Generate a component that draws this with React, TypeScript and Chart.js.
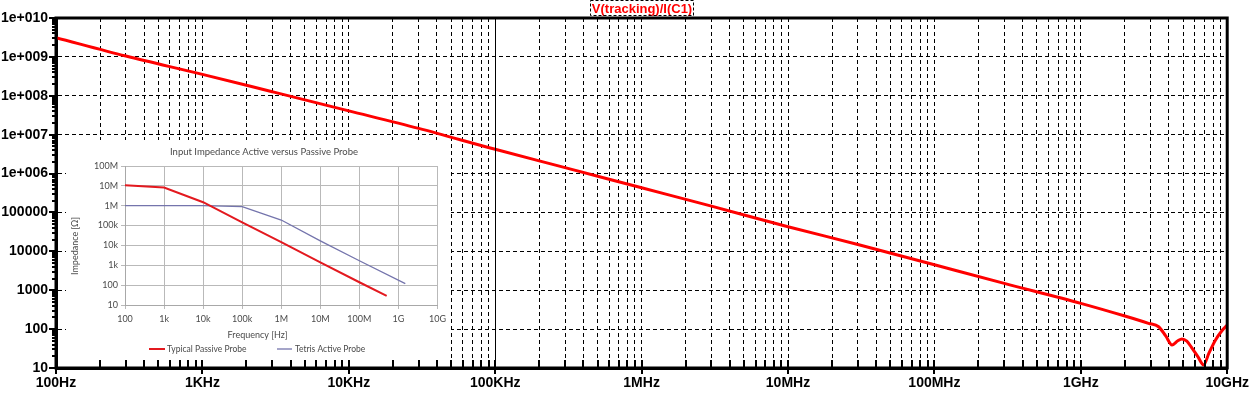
import React, { useEffect, useRef } from 'react';
import { Chart, registerables } from 'chart.js';

Chart.register(...registerables);

// ---------------- main plot data ----------------
const TITLE_TEXT = 'V(tracking)/I(C1)';
const freqHz = [
  100, 300, 1e3, 3e3, 1e4, 3e4, 1e5, 3e5, 1e6, 3e6, 1e7, 3e7, 1e8, 3e8, 1e9, 2e9,
  2.9e9, 3.4e9, 3.8e9, 4.2e9, 4.6e9, 4.9e9, 5.3e9, 5.7e9, 6.3e9, 6.9e9, 7.5e9, 8.3e9, 9.2e9, 1e10,
];
const impedanceOhm = [
  3.12e9, 1.05e9, 3.55e8, 1.27e8, 4.1e7, 1.45e7, 4.2e6, 1.42e6, 4.3e5, 1.45e5, 4.3e4, 1.5e4, 4.5e3, 1.5e3, 460, 217,
  141, 115, 67, 39, 50, 56, 49, 34, 19.6, 12, 24, 52, 91, 127,
];
const xDecades = [1e2, 1e3, 1e4, 1e5, 1e6, 1e7, 1e8, 1e9, 1e10];
const xTickLabels = ['100Hz', '1KHz', '10KHz', '100KHz', '1MHz', '10MHz', '100MHz', '1GHz', '10GHz'];
const yDecades = [1e1, 1e2, 1e3, 1e4, 1e5, 1e6, 1e7, 1e8, 1e9, 1e10];
const yTickLabels = ['10', '100', '1000', '10000', '100000', '1e+006', '1e+007', '1e+008', '1e+009', '1e+010'];
const CURSOR_FREQ = 1e5;

// ---------------- inset data ----------------
const INSET_TITLE = 'Input Impedance Active versus Passive Probe';
const INSET_X_TITLE = 'Frequency [Hz]';
const INSET_Y_TITLE = 'Impedance [Ω]';
const insetXDecades = [1e2, 1e3, 1e4, 1e5, 1e6, 1e7, 1e8, 1e9, 1e10];
const insetXLabels = ['100', '1k', '10k', '100k', '1M', '10M', '100M', '1G', '10G'];
const insetYDecades = [1e1, 1e2, 1e3, 1e4, 1e5, 1e6, 1e7, 1e8];
const insetYLabels = ['10', '100', '1k', '10k', '100k', '1M', '10M', '100M'];
const passiveLabel = 'Typical Passive Probe';
const passiveFreq = [100, 1e3, 1e4, 1e5, 1e6, 1e7, 1e8, 5e8];
const passiveImp = [1.08e7, 8.2e6, 1.5e6, 1.45e5, 1.45e4, 1.4e3, 140, 29];
const activeLabel = 'Tetris Active Probe';
const activeFreq = [100, 1e3, 1e4, 1e5, 1e6, 1e7, 1e8, 1.5e9];
const activeImp = [1e6, 1e6, 1e6, 9e5, 1.9e5, 1.7e4, 1.7e3, 120];

// ---------------- helpers ----------------
const MAIN_FONT = '"Liberation Sans", Arial, sans-serif';
const INSET_FONT = 'Lato, "Open Sans", sans-serif';
const INSET_TEXT = '#4a4a4a';
const INSET_GRID = '#b9b9b9';

function withMinors(decades: number[]): number[] {
  const out: number[] = [];
  for (let i = 0; i < decades.length - 1; i++) {
    for (let m = 1; m <= 9; m++) out.push(m * decades[i]);
  }
  out.push(decades[decades.length - 1]);
  return out;
}
function decadeIndex(v: number, decades: number[]): number {
  const l = Math.log10(v);
  return decades.findIndex((d) => Math.abs(Math.log10(d) - l) < 1e-6);
}

const mainDecor = {
  id: 'mainDecor',
  afterDraw(chart: any) {
    const { ctx, chartArea: a } = chart;
    const x = chart.scales.x;
    const y = chart.scales.y;
    ctx.save();
    ctx.setLineDash([]);
    ctx.strokeStyle = '#000';
    // cursor line
    ctx.lineWidth = 1;
    const cx = Math.round(x.getPixelForValue(CURSOR_FREQ)) + 0.5;
    ctx.beginPath();
    ctx.moveTo(cx, a.top);
    ctx.lineTo(cx, a.bottom);
    ctx.stroke();
    // tick marks
    ctx.lineWidth = 2;
    x.ticks.forEach((t: any) => {
      const px = Math.round(x.getPixelForValue(t.value));
      const major = decadeIndex(t.value, xDecades) >= 0;
      ctx.beginPath();
      ctx.moveTo(px, a.bottom - 8);
      ctx.lineTo(px, a.bottom + (major ? 6 : 0));
      ctx.stroke();
    });
    y.ticks.forEach((t: any) => {
      const py = Math.round(y.getPixelForValue(t.value));
      const major = decadeIndex(t.value, yDecades) >= 0;
      ctx.beginPath();
      ctx.moveTo(a.left - (major ? 7 : 4), py);
      ctx.lineTo(a.left, py);
      ctx.stroke();
    });
    // frame
    ctx.lineWidth = 3;
    ctx.strokeRect(a.left, a.top, a.right - a.left, a.bottom - a.top);
    // title
    ctx.font = `bold 13px ${MAIN_FONT}`;
    ctx.textAlign = 'center';
    ctx.textBaseline = 'middle';
    const tx = Math.round((a.left + a.right) / 2);
    const w = ctx.measureText(TITLE_TEXT).width;
    ctx.fillStyle = '#ff0000';
    ctx.fillText(TITLE_TEXT, tx, 9);
    ctx.setLineDash([3, 2]);
    ctx.lineWidth = 1;
    ctx.strokeRect(Math.round(tx - w / 2) - 1.5, 0.5, Math.round(w) + 3, 15);
    ctx.restore();
  },
};

const insetDecor = {
  id: 'insetDecor',
  afterDraw(chart: any) {
    const { ctx } = chart;
    ctx.save();
    ctx.fillStyle = INSET_TEXT;
    ctx.textBaseline = 'middle';
    ctx.textAlign = 'center';
    ctx.font = `9.5px ${INSET_FONT}`;
    ctx.fillText(INSET_TITLE, 198, 12);
    ctx.font = `9px ${INSET_FONT}`;
    ctx.fillText(INSET_X_TITLE, 191.5, 195);
    ctx.save();
    ctx.translate(9, 106);
    ctx.rotate(-Math.PI / 2);
    ctx.fillText(INSET_Y_TITLE, 0, 0);
    ctx.restore();
    // legend
    const items = [
      { x0: 83, x1: 99, tx: 101 },
      { x0: 211, x1: 226, tx: 229 },
    ];
    ctx.textAlign = 'left';
    ctx.font = `8.5px ${INSET_FONT}`;
    chart.data.datasets.forEach((ds: any, i: number) => {
      const it = items[i];
      ctx.strokeStyle = ds.borderColor;
      ctx.lineWidth = ds.borderWidth;
      ctx.beginPath();
      ctx.moveTo(it.x0, 209);
      ctx.lineTo(it.x1, 209);
      ctx.stroke();
      ctx.fillStyle = INSET_TEXT;
      ctx.fillText(ds.label, it.tx, 209);
    });
    ctx.restore();
  },
};

export default function App() {
  const mainRef = useRef<HTMLCanvasElement>(null);
  const insetRef = useRef<HTMLCanvasElement>(null);

  useEffect(() => {
    const xTicks = withMinors(xDecades);
    const yTicks = withMinors(yDecades);
    const main = new Chart(mainRef.current as HTMLCanvasElement, {
      type: 'line',
      data: {
        datasets: [
          {
            label: TITLE_TEXT,
            data: freqHz.map((f, i) => ({ x: f, y: impedanceOhm[i] })),
            borderColor: '#ff0000',
            borderWidth: 3,
            pointRadius: 0,
            cubicInterpolationMode: 'monotone',
            fill: false,
          },
        ],
      },
      options: {
        responsive: false,
        animation: false,
        layout: { padding: { top: 18, right: 27, left: 0, bottom: 0 } },
        plugins: { legend: { display: false }, title: { display: false }, tooltip: { enabled: false } },
        scales: {
          x: {
            type: 'logarithmic',
            min: 100,
            max: 1e10,
            afterBuildTicks: (s: any) => {
              s.ticks = xTicks.map((v) => ({ value: v }));
            },
            afterFit: (s: any) => {
              s.height = 26;
            },
            grid: { color: '#000', lineWidth: 1, drawTicks: false },
            border: { display: true, color: '#000', width: 3, dash: [4, 3] },
            ticks: {
              autoSkip: false,
              maxRotation: 0,
              padding: 7,
              color: '#000',
              font: { family: MAIN_FONT, size: 14, weight: 'bold' },
              callback: (v: any) => {
                const i = decadeIndex(Number(v), xDecades);
                return i >= 0 ? xTickLabels[i] : '';
              },
            },
          },
          y: {
            type: 'logarithmic',
            min: 10,
            max: 1e10,
            afterBuildTicks: (s: any) => {
              s.ticks = yTicks.map((v) => ({ value: v }));
            },
            afterFit: (s: any) => {
              s.width = 56;
            },
            grid: {
              color: (c: any) => (c.tick && decadeIndex(c.tick.value, yDecades) >= 0 ? '#000' : 'rgba(0,0,0,0)'),
              lineWidth: 1,
              drawTicks: false,
            },
            border: { display: true, color: '#000', width: 3, dash: [4, 3] },
            ticks: {
              autoSkip: false,
              padding: 8,
              color: '#000',
              font: { family: MAIN_FONT, size: 14, weight: 'bold' },
              callback: (v: any) => {
                const i = decadeIndex(Number(v), yDecades);
                return i >= 0 ? yTickLabels[i] : '';
              },
            },
          },
        },
      } as any,
      plugins: [mainDecor],
    });

    const inset = new Chart(insetRef.current as HTMLCanvasElement, {
      type: 'line',
      data: {
        datasets: [
          {
            label: passiveLabel,
            data: passiveFreq.map((f, i) => ({ x: f, y: passiveImp[i] })),
            borderColor: '#e3191f',
            borderWidth: 2,
            pointRadius: 0,
            tension: 0,
          },
          {
            label: activeLabel,
            data: activeFreq.map((f, i) => ({ x: f, y: activeImp[i] })),
            borderColor: '#7474ac',
            borderWidth: 1.3,
            pointRadius: 0,
            tension: 0,
          },
        ],
      },
      options: {
        responsive: false,
        animation: false,
        layout: { padding: { top: 26, right: 12, left: 0, bottom: 0 } },
        plugins: { legend: { display: false }, title: { display: false }, tooltip: { enabled: false } },
        scales: {
          x: {
            type: 'logarithmic',
            min: 100,
            max: 1e10,
            afterBuildTicks: (s: any) => {
              s.ticks = insetXDecades.map((v) => ({ value: v }));
            },
            afterFit: (s: any) => {
              s.height = 54;
            },
            grid: { color: INSET_GRID, lineWidth: 1, tickLength: 4 },
            border: { display: true, color: '#a8a8a8', width: 1 },
            ticks: {
              autoSkip: false,
              maxRotation: 0,
              padding: 5,
              color: INSET_TEXT,
              font: { family: INSET_FONT, size: 9 },
              callback: (v: any) => {
                const i = decadeIndex(Number(v), insetXDecades);
                return i >= 0 ? insetXLabels[i] : '';
              },
            },
          },
          y: {
            type: 'logarithmic',
            min: 10,
            max: 1e8,
            afterBuildTicks: (s: any) => {
              s.ticks = insetYDecades.map((v) => ({ value: v }));
            },
            afterFit: (s: any) => {
              s.width = 59;
            },
            grid: { color: INSET_GRID, lineWidth: 1, tickLength: 4 },
            border: { display: true, color: '#a8a8a8', width: 1 },
            ticks: {
              autoSkip: false,
              padding: 3,
              color: INSET_TEXT,
              font: { family: INSET_FONT, size: 9 },
              callback: (v: any) => {
                const i = decadeIndex(Number(v), insetYDecades);
                return i >= 0 ? insetYLabels[i] : '';
              },
            },
          },
        },
      } as any,
      plugins: [insetDecor],
    });

    return () => {
      main.destroy();
      inset.destroy();
    };
  }, []);

  return (
    <div style={{ position: 'absolute', left: 0, top: 0, width: 1256, height: 394, background: '#fff' }}>
      <canvas ref={mainRef} width={1256} height={394} style={{ position: 'absolute', left: 0, top: 0 }} />
      <div style={{ position: 'absolute', left: 66, top: 140, width: 385, height: 219, background: '#fff' }}>
        <canvas ref={insetRef} width={385} height={219} style={{ position: 'absolute', left: 0, top: 0 }} />
      </div>
    </div>
  );
}
